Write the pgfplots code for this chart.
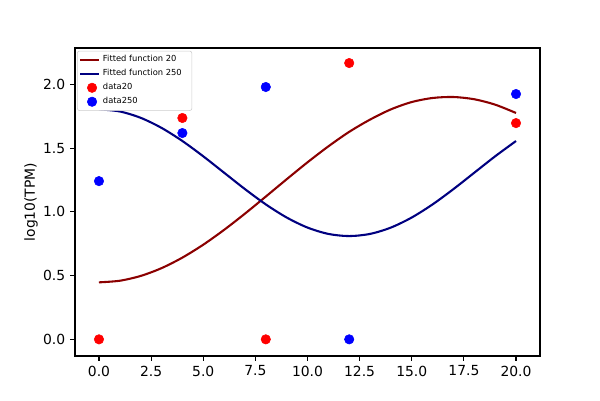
\documentclass[border=0pt]{standalone}
\usepackage{pgfplots}
\pgfplotsset{compat=1.18}
\usepackage{fontspec}
\setmainfont{DejaVu Sans}
\definecolor{fit20}{HTML}{8B0000}
\definecolor{fit250}{HTML}{000080}
\pgfplotsset{fitlegend/.style={legend image code/.code={\draw[##1] (0cm,0cm) -- (0.48cm,0cm);}}}
\begin{document}
\begin{tikzpicture}
\begin{axis}[
  name=ax,
  scale only axis,
  width=334.8pt, height=221.8pt,
  xmin=-1.15, xmax=21.15,
  ymin=-0.131, ymax=2.285,
  xtick={0,2.5,5,7.5,10,12.5,15,17.5,20},
  ytick={0,0.5,1,1.5,2},
  xticklabel style={/pgf/number format/.cd,fixed,fixed zerofill,precision=1},
  yticklabel style={/pgf/number format/.cd,fixed,fixed zerofill,precision=1},
  /pgf/number format/assume math mode=true,
  tick label style={font=\fontsize{10}{12}\selectfont},
  tick align=outside,
  major tick length=3.5pt,
  xtick pos=bottom, ytick pos=left,
  ylabel={log10(TPM)},
  ylabel shift=-3pt,
  ylabel style={font=\fontsize{10}{12}\selectfont},
  axis line style={line width=0.8pt},
  every tick/.style={black, line width=0.8pt},
  legend cell align=left,
  legend style={at={(0,1)}, anchor=north west, xshift=1.5pt, yshift=-2pt,
    font=\fontsize{6}{6.6}\selectfont, draw=black!20, rounded corners=1.5pt,
    inner sep=1.3pt, row sep=0pt},
]
\addplot[fit20, line width=1.5pt, smooth, fitlegend] coordinates {
(0,0.447)(1,0.4597)(2,0.4973)(3,0.5584)(4,0.6411)(5,0.7422)(6,0.8586)(7,0.9858)
(8,1.1197)(9,1.2554)(10,1.3883)(11,1.5134)(12,1.6273)(13,1.7234)(14,1.8036)
(15,1.8611)(16,1.8929)(17,1.9005)(18,1.8828)(19,1.8406)(20,1.7753)};
\addlegendentry{Fitted function 20}
\addplot[fit250, line width=1.5pt, smooth, fitlegend] coordinates {
(0,1.804)(1,1.7871)(2,1.7374)(3,1.6584)(4,1.5555)(5,1.4356)(6,1.307)(7,1.1784)
(8,1.0585)(9,0.9556)(10,0.8766)(11,0.8269)(12,0.810)(13,0.8269)(14,0.8766)
(15,0.9556)(16,1.0585)(17,1.1784)(18,1.307)(19,1.4356)(20,1.5555)};
\addlegendentry{Fitted function 250\hspace*{4pt}}
\addplot[only marks, mark=*, mark size=3.4pt, color=red, draw=none] coordinates {
(0,0)(4,1.736)(8,0)(12,2.167)(20,1.696)};
\addlegendentry{data20}
\addplot[only marks, mark=*, mark size=3.4pt, color=blue, draw=none] coordinates {
(0,1.241)(4,1.618)(8,1.979)(12,0)(20,1.924)};
\addlegendentry{data250}
\end{axis}
\path ([shift={(-54pt,-31.68pt)}]ax.south west) rectangle ([shift={(43.2pt,34.56pt)}]ax.north east);
\end{tikzpicture}
\end{document}
